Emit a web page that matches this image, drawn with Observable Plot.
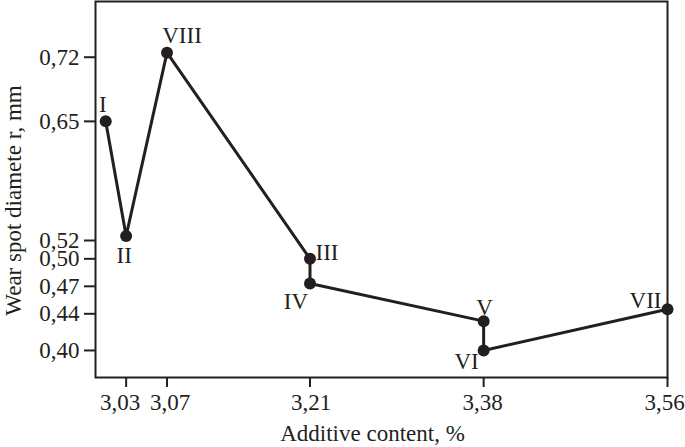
<!DOCTYPE html>
<html><head><meta charset="utf-8">
<script src="https://cdn.jsdelivr.net/npm/d3@7"></script>
<script src="https://cdn.jsdelivr.net/npm/@observablehq/plot@0.6"></script>
<style>body{margin:0;background:#fff}</style>
</head><body><div id="chart"></div>
<script>
const pointLabels = ["I", "II", "VIII", "III", "IV", "V", "VI", "VII"];
const additiveContent = [3.01, 3.03, 3.07, 3.21, 3.21, 3.38, 3.38, 3.56];
const wearDiameter = [0.65, 0.525, 0.725, 0.50, 0.473, 0.432, 0.40, 0.445];
const xTicks = [3.03, 3.07, 3.21, 3.38, 3.56];
const yTicks = [0.40, 0.44, 0.47, 0.50, 0.52, 0.65, 0.72];
const xTitle = "Additive content, %";
const yTitle = "Wear spot diamete r, mm";

const data = pointLabels.map((label, i) => ({label, x: additiveContent[i], y: wearDiameter[i]}));
// label offsets (styling only)
const placement = {I: [-3, -17], II: [-2, 20], VIII: [15, -17], III: [17, -6], IV: [-14, 18], V: [1, -14], VI: [-17, 11], VII: [-22, -9]};
const xTickShift = {3.03: -6, 3.07: 3, 3.21: 1, 3.38: -1, 3.56: -3};
const fmt = d => d3.format(".2f")(d).replace(".", ",");
const ink = "#231f20";
const font = "'Liberation Serif', 'Times New Roman', serif";
const fs = 23;

const labelMarks = data.map(d => Plot.text([d], {
  x: "x", y: "y", text: "label", dx: placement[d.label][0], dy: placement[d.label][1],
  fontSize: fs, fill: ink, textAnchor: "middle", lineAnchor: "middle"
}));
const xTickLabels = xTicks.map(t => Plot.text([t], {
  x: d => d, text: fmt, frameAnchor: "bottom", dx: xTickShift[t], dy: 25,
  fontSize: fs, fill: ink, textAnchor: "middle", lineAnchor: "middle"
}));

const chart = Plot.plot({
  width: 685, height: 447,
  marginLeft: 95, marginRight: 18, marginTop: 1, marginBottom: 70,
  style: {fontFamily: font, fontSize: fs + "px", color: ink, background: "#fff"},
  x: {domain: [3.0, 3.56]},
  y: {domain: [0.3705, 0.7808]},
  marks: [
    Plot.frame({stroke: ink, strokeWidth: 2}),
    Plot.axisX(xTicks, {tickFormat: () => "", tickSize: 10, strokeWidth: 2, label: null}),
    ...xTickLabels,
    Plot.axisY(yTicks, {tickFormat: fmt, tickSize: 11, tickPadding: 5, strokeWidth: 2, fontSize: fs, label: null}),
    Plot.line(data, {x: "x", y: "y", stroke: ink, strokeWidth: 3}),
    Plot.dot(data, {x: "x", y: "y", r: 6, fill: ink, stroke: "none"}),
    ...labelMarks,
    Plot.text([xTitle], {frameAnchor: "bottom", dx: -9, dy: 56, fontSize: fs, fill: ink, textAnchor: "middle", lineAnchor: "middle"}),
    Plot.text([yTitle], {frameAnchor: "left", dx: -82, dy: 11, rotate: -90, fontSize: fs, fill: ink, textAnchor: "middle", lineAnchor: "middle"})
  ]
});
document.getElementById("chart").appendChild(chart);
</script>
</body></html>
